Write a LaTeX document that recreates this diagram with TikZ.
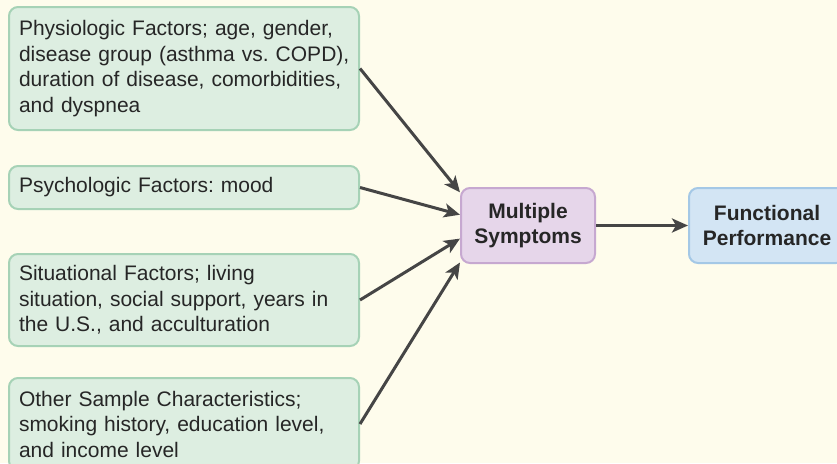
\documentclass[tikz,border=0pt]{standalone}
\usepackage{fontspec}
\setmainfont{Liberation Sans}
\usetikzlibrary{arrows.meta,calc}
\definecolor{paper}{HTML}{FEFCEC}
\definecolor{factorfill}{HTML}{DDEEE1}
\definecolor{factorline}{HTML}{A6D2B6}
\definecolor{symfill}{HTML}{E6D6EA}
\definecolor{symline}{HTML}{C6A8D0}
\definecolor{perffill}{HTML}{D3E5F4}
\definecolor{perfline}{HTML}{A4C8E6}
\definecolor{arrowgray}{HTML}{454545}
\frenchspacing
\hfuzz=50pt
\begin{document}
\begin{tikzpicture}[x=1pt,y=-1pt,
  basebox/.style={line width=2pt, rounded corners=9pt, text=black!85,
    font=\fontsize{21}{25.5}\selectfont},
  factor/.style={basebox, draw=factorline, fill=factorfill, anchor=north west,
    minimum width=350pt, text width=330pt, align=left, inner xsep=10pt, inner ysep=4pt},
  outcome/.style={basebox, minimum height=75pt, align=center,
    font=\fontsize{21}{25.5}\selectfont\bfseries},
  link/.style={draw=arrowgray, line width=3pt, -{Stealth[length=16pt,width=14pt,inset=4pt]}}]
\clip (0,0) rectangle (837,463);
\fill[paper] (0,0) rectangle (837,463);

\node[factor, minimum height=123pt] (phys) at (8,6)
  {Physiologic Factors; age, gender,\\\mbox{disease group (asthma vs. COPD),}\\duration of disease, comorbidities,\\and dyspnea};
\node[factor, minimum height=43pt] (psych) at (8,165)
  {Psychologic Factors: mood};
\node[factor, minimum height=92pt] (sit) at (8,253)
  {Situational Factors; living\\situation, social support, years in\\the U.S., and acculturation};
\node[factor, minimum height=92pt] (other) at (8,377)
  {Other Sample Characteristics;\\smoking history, education level,\\and income level};

\node[outcome, draw=symline, fill=symfill, minimum width=134pt] (sym) at (528,225.5)
  {Multiple\\Symptoms};
\node[outcome, draw=perfline, fill=perffill, minimum width=156pt] (perf) at (767,225.5)
  {Functional\\Performance};

\draw[link] (phys.east)  -- ($(sym.north west)!0.07!(sym.south west)$);
\draw[link] (psych.east) -- ($(sym.north west)!0.36!(sym.south west)$);
\draw[link] (sit.east)   -- ($(sym.north west)!0.67!(sym.south west)$);
\draw[link] (other.east) -- ($(sym.north west)!0.98!(sym.south west)$);
\draw[link] (sym.east) -- (perf.west);
\end{tikzpicture}
\end{document}
